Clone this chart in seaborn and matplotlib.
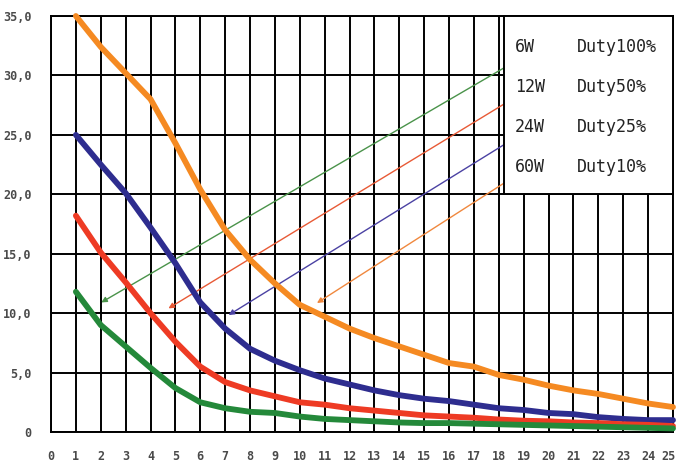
"""
Curvas de potência x tempo (6W / 12W / 24W / 60W) com duty cycle.
Gera out.png.
"""

import pandas as pd
import matplotlib.pyplot as plt
import matplotlib.patches as mpatches
import matplotlib.transforms as mtransforms
import seaborn as sns

# dados
tempo = list(range(1, 26))
serie_laranja = [35.0, 32.4, 30.2, 28.0, 24.3, 20.4, 17.0, 14.5, 12.5, 10.7,
                 9.7, 8.7, 7.9, 7.2, 6.5, 5.8, 5.5, 4.8, 4.4, 3.9,
                 3.5, 3.2, 2.8, 2.4, 2.1]
serie_azul = [25.0, 22.5, 20.1, 17.2, 14.2, 10.9, 8.7, 7.0, 6.0, 5.2,
              4.5, 4.0, 3.5, 3.1, 2.8, 2.6, 2.3, 2.0, 1.85, 1.6,
              1.5, 1.25, 1.1, 1.0, 1.0]
serie_vermelha = [18.2, 15.1, 12.6, 10.0, 7.6, 5.5, 4.2, 3.5, 3.0, 2.5,
                  2.3, 2.0, 1.8, 1.6, 1.4, 1.3, 1.2, 1.05, 0.95, 0.9,
                  0.8, 0.75, 0.65, 0.6, 0.5]
serie_verde = [11.8, 9.0, 7.2, 5.4, 3.7, 2.5, 2.0, 1.7, 1.6, 1.3,
               1.1, 1.0, 0.9, 0.8, 0.75, 0.75, 0.7, 0.65, 0.6, 0.55,
               0.5, 0.45, 0.4, 0.35, 0.3]

potencias = ["6W", "12W", "24W", "60W"]
duties = ["Duty100%", "Duty50%", "Duty25%", "Duty10%"]

# setas: (ponta, cauda) em coordenadas de dados
setas_ponta = [(2.02, 10.9), (4.72, 10.4), (7.14, 9.84), (10.69, 10.85)]
setas_cauda = [(19.0, 31.6), (19.0, 28.6), (19.0, 25.2), (19.0, 22.0)]

x_ticks = list(range(0, 26))
y_ticks = [0, 5, 10, 15, 20, 25, 30, 35]
y_labels = ["0", "5,0", "10,0", "15,0", "20,0", "25,0", "30,0", "35,0"]

CORES = {
    "laranja": "#F58A22",
    "azul": "#2E2D8F",
    "vermelho": "#EE3B24",
    "verde": "#24893A",
    "seta_verde": "#4A934A",
    "seta_vermelha": "#E85A36",
    "seta_azul": "#4B42A3",
    "seta_laranja": "#F0883E",
    "texto": "#4A4A4A",
}

sns.set_theme(style="white")
plt.rcParams.update({
    "font.family": ["DejaVu Sans Mono", "DejaVu Sans"],
    "axes.edgecolor": "black",
    "axes.linewidth": 1.4,
})


def montar_df() -> pd.DataFrame:
    partes = []
    for nome, valores in [("laranja", serie_laranja), ("azul", serie_azul),
                          ("vermelho", serie_vermelha), ("verde", serie_verde)]:
        partes.append(pd.DataFrame({"t": tempo, "v": valores, "serie": nome}))
    return pd.concat(partes, ignore_index=True)


def grafico(df: pd.DataFrame) -> None:
    fig = plt.figure(figsize=(6.77, 4.67), dpi=100)
    ax = fig.add_axes([51 / 677, 1 - 432 / 467, 622 / 677, 416 / 467])

    sns.lineplot(
        data=df, x="t", y="v", hue="serie",
        palette={k: CORES[k] for k in ["laranja", "azul", "vermelho", "verde"]},
        linewidth=4.2, legend=False, ax=ax, zorder=4,
    )
    for ln in ax.lines:
        ln.set_clip_on(False)
        ln.set_solid_capstyle("round")
        ln.set_solid_joinstyle("round")

    cores_setas = ["seta_verde", "seta_vermelha", "seta_azul", "seta_laranja"]
    for ponta, cauda, c in zip(setas_ponta, setas_cauda, cores_setas):
        ax.annotate(
            "", xy=ponta, xytext=cauda, zorder=3,
            arrowprops=dict(arrowstyle="-|>", color=CORES[c], lw=1.0,
                            mutation_scale=8, shrinkA=0, shrinkB=0),
        )

    ax.set_xlim(0, 25)
    ax.set_ylim(0, 35)
    ax.set_xticks(x_ticks)
    ax.set_yticks(y_ticks)
    ax.set_yticklabels(y_labels)
    ax.set_xlabel("")
    ax.set_ylabel("")
    ax.grid(True, color="black", linewidth=1.4)
    ax.set_axisbelow(True)
    ax.tick_params(axis="both", length=4, width=1.4, color="black",
                   labelsize=8.5, labelcolor=CORES["texto"])
    ax.tick_params(axis="x", pad=9)
    ax.tick_params(axis="y", pad=10)
    for lbl in ax.get_xticklabels() + ax.get_yticklabels():
        lbl.set_fontweight("bold")
    for s in ax.spines.values():
        s.set_visible(True)
        s.set_color("black")

    # o "25" fica colado na borda: puxa uns pixels para a esquerda
    ultimo = ax.xaxis.get_major_ticks()[-1].label1
    ultimo.set_transform(ultimo.get_transform()
                         + mtransforms.ScaledTranslation(-0.04, 0, fig.dpi_scale_trans))

    # caixa de legenda em texto
    caixa = mpatches.Rectangle((18.2, 20.0), 6.8, 15.0, facecolor="white",
                               edgecolor="black", linewidth=1.4, zorder=5,
                               clip_on=False)
    ax.add_patch(caixa)
    for i, (p, d) in enumerate(zip(potencias, duties)):
        y = 32.4 - i * 3.37
        ax.text(18.65, y, p, fontsize=12, color="#222222", va="center", zorder=6)
        ax.text(21.15, y, d, fontsize=12, color="#222222", va="center", zorder=6)

    fig.savefig("out.png", dpi=100)
    plt.close(fig)


if __name__ == "__main__":
    grafico(montar_df())
